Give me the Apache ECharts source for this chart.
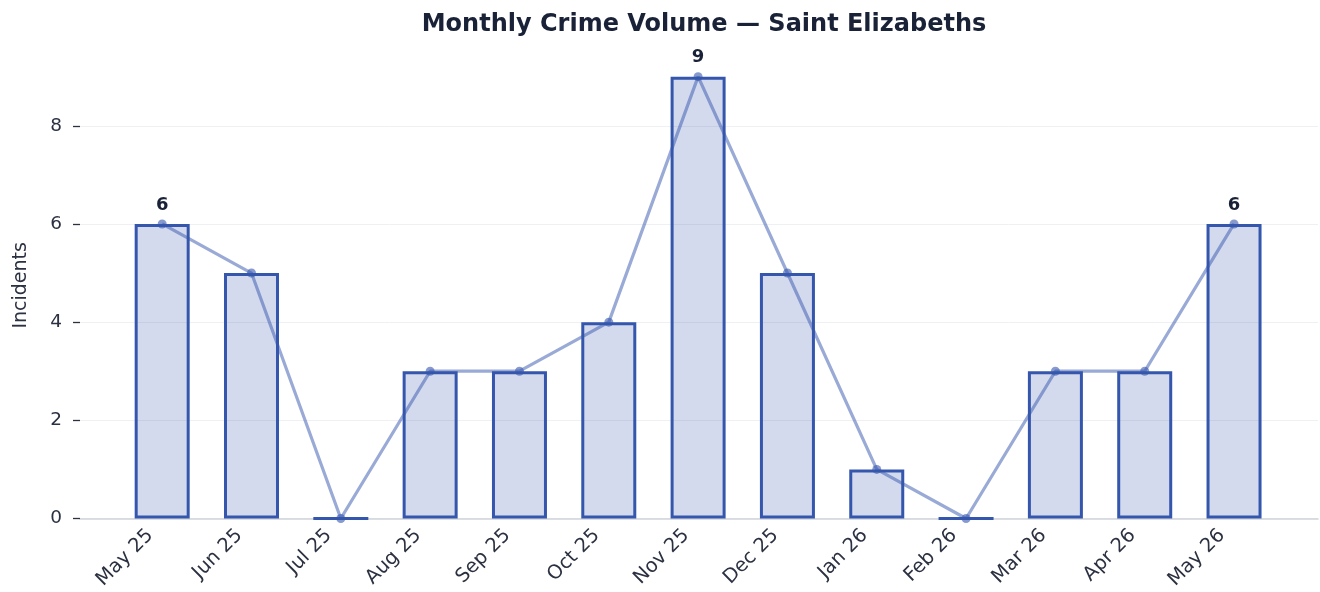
<!DOCTYPE html>
<html>
<head>
<meta charset="utf-8">
<script src="https://cdn.jsdelivr.net/npm/echarts@6/dist/echarts.min.js"></script>
<style>
html,body{margin:0;padding:0;background:#fff;}
#chart{width:1320px;height:592px;}
</style>
</head>
<body>
<div id="chart"></div>
<script>
const categories = ['May 25','Jun 25','Jul 25','Aug 25','Sep 25','Oct 25','Nov 25','Dec 25','Jan 26','Feb 26','Mar 26','Apr 26','May 26'];
const incidents = [6,5,0,3,3,4,9,5,1,0,3,3,6];
const labeledIdx = [0,6,12];
const yTicks = [0,2,4,6,8];

const FONT = 'DejaVu Sans';
const BLUE = '#3556ad';
const xTicks = categories.map((c,i)=>i);

const barData = incidents.map((v,i)=>({
  value:[i,v],
  label:{show: labeledIdx.indexOf(i)>=0}
}));
const lineData = incidents.map((v,i)=>[i,v]);

const chart = echarts.init(document.getElementById('chart'));
chart.setOption({
  animation:false,
  backgroundColor:'#ffffff',
  title:{
    text:'Monthly Crime Volume — Saint Elizabeths',
    left:699, top:8, textAlign:'center',
    textStyle:{fontFamily:FONT,fontWeight:'bold',fontSize:24,color:'#1a2238'}
  },
  grid:{left:80,right:2,top:520-9.5*49.25,bottom:72,containLabel:false},
  xAxis:{
    type:'value', min:-0.92, max:12.94,
    axisLine:{show:true,onZero:false,lineStyle:{color:'#d0d3d9',width:1.5}},
    axisTick:{show:false},
    splitLine:{show:false},
    axisLabel:{
      customValues:xTicks,
      rotate:45, margin:16, verticalAlign:'bottom', padding:[0,7,0,0],
      fontFamily:FONT, fontSize:19.5, color:'#2b3140',
      formatter:(v)=>categories[Math.round(v)] || ''
    }
  },
  yAxis:{
    type:'value', min:0, max:9.5,
    name:'Incidents', nameLocation:'middle', nameGap:49, nameRotate:90,
    nameTextStyle:{fontFamily:FONT,fontSize:19,color:'#2b3140'},
    axisLine:{show:false,onZero:false},
    axisTick:{show:true,customValues:yTicks,length:7,lineStyle:{color:'#2b3140',width:1.3}},
    axisLabel:{customValues:yTicks,fontFamily:FONT,fontSize:18.5,color:'#2b3140',margin:18},
    splitLine:{show:true,lineStyle:{color:'#eef0f4',width:1}}
  },
  series:[
    {
      type:'bar',
      data:barData,
      barWidth:55,
      itemStyle:{color:'rgba(53,86,173,0.22)',borderColor:BLUE,borderWidth:3},
      label:{position:'top',distance:10,fontFamily:FONT,fontWeight:'bold',fontSize:18,color:'#1a2238'},
      z:2
    },
    {
      type:'line',
      data:lineData,
      symbol:'circle', symbolSize:9,
      lineStyle:{color:'rgba(53,86,173,0.5)',width:3.2},
      itemStyle:{color:'rgba(53,86,173,0.6)'},
      z:3
    }
  ]
});
</script>
</body>
</html>
